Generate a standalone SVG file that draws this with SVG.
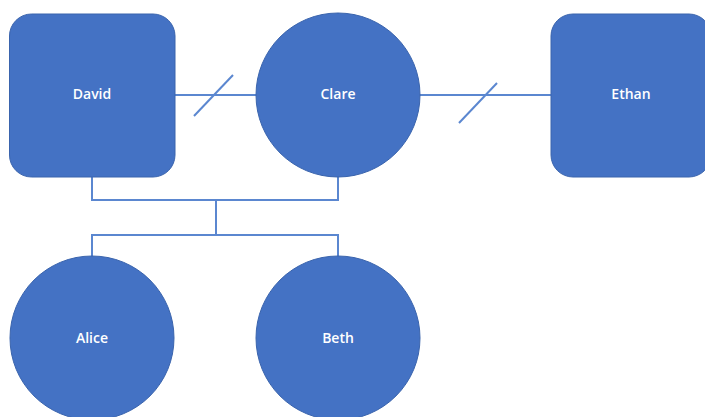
<svg xmlns="http://www.w3.org/2000/svg" width="705" height="417" viewBox="0 0 705 417">
<style>
.n{fill:#4472C4;stroke:#3a64ad;stroke-width:1}
.t{fill:#fff;font-family:"Open Sans","Liberation Sans",sans-serif;font-size:14px;font-weight:600;text-anchor:middle;dominant-baseline:central}
.c{fill:none;stroke:#5b87d0;stroke-width:2}
</style>
<rect width="705" height="417" fill="#fff"/>
<g id="connectors">
<line class="c" x1="175" y1="95" x2="256" y2="95"/>
<line class="c" x1="194" y1="116" x2="233" y2="75"/>
<line class="c" x1="420" y1="95" x2="551" y2="95"/>
<line class="c" x1="459" y1="123" x2="497" y2="83"/>
<polyline class="c" points="92,177 92,200 338,200 338,177"/>
<line class="c" x1="216" y1="200" x2="216" y2="235"/>
<polyline class="c" points="92,256 92,235 338,235 338,256"/>
</g>
<g id="david"><rect class="n" x="9.5" y="14" width="165.5" height="163" rx="22"/><text class="t" x="92" y="93">David</text></g>
<g id="clare"><circle class="n" cx="338" cy="95" r="82"/><text class="t" x="338" y="93">Clare</text></g>
<g id="ethan"><rect class="n" x="551" y="14" width="160" height="163" rx="22"/><text class="t" x="631" y="93">Ethan</text></g>
<g id="alice"><circle class="n" cx="92" cy="338" r="82"/><text class="t" x="92" y="337">Alice</text></g>
<g id="beth"><circle class="n" cx="338" cy="338" r="82"/><text class="t" x="338" y="337">Beth</text></g>
</svg>
